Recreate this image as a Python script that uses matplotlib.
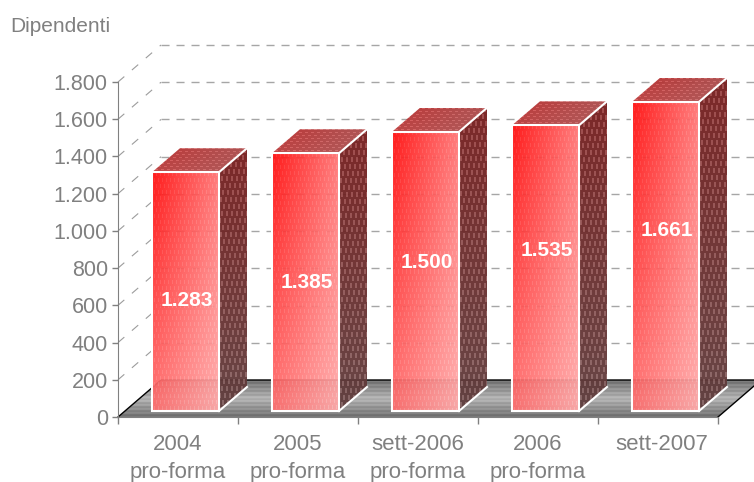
import matplotlib
matplotlib.use('Agg')
import matplotlib.pyplot as plt
from matplotlib.patches import Polygon
from matplotlib.transforms import ScaledTranslation
import numpy as np

categories = ['2004\npro-forma', '2005\npro-forma', 'sett-2006\npro-forma', '2006\npro-forma', 'sett-2007']
employees = [1283, 1385, 1500, 1535, 1661]
value_labels = ['1.283', '1.385', '1.500', '1.535', '1.661']
y_ticks = [0, 200, 400, 600, 800, 1000, 1200, 1400, 1600, 1800]
y_tick_labels = ['0', '200', '400', '600', '800', '1.000', '1.200', '1.400', '1.600', '1.800']
# where the value labels sit, they are not centred in the bars
label_heights = [624, 721, 828, 893, 1000]

W, H = 754, 482
LEFT, RIGHT, BOTTOM, TOP = 118, 718, 417, 82  # plot box in pixels
PX_X = 5 / (RIGHT - LEFT)
PX_Y = 1800 / (BOTTOM - TOP)
GREY = '#808080'

plt.rcParams['font.family'] = ['Liberation Sans', 'DejaVu Sans']

fig = plt.figure(figsize=(W / 100, H / 100), dpi=100)
ax = fig.add_axes([LEFT / W, 1 - BOTTOM / H, (RIGHT - LEFT) / W, (BOTTOM - TOP) / H])


def texture(w, h, tl, tr, bl, br, kind):
    # bilinear colour gradient with a fine woven pattern on top
    u = np.linspace(0, 1, w)[None, :, None]
    v = np.linspace(0, 1, h)[:, None, None]
    tl, tr, bl, br = [np.array(c, dtype=float)[None, None, :] for c in (tl, tr, bl, br)]
    img = (tl * (1 - u) + tr * u) * (1 - v) + (bl * (1 - u) + br * u) * v
    yy, xx = np.mgrid[0:h, 0:w]
    if kind == 'front':
        mask = ((xx + 2 * (yy // 6)) % 4 == 0) & (yy % 6 < 4)
        img = img + mask[:, :, None] * 20
    elif kind == 'side':
        mask = ((xx + 2 * (yy // 7)) % 5 < 2) & (yy % 7 < 5)
        img = img + mask[:, :, None] * 38
    elif kind == 'top':
        mask = ((xx + 3 * (yy // 3)) % 6 < 3) & (yy % 3 == 0)
        img = img + mask[:, :, None] * 28
    elif kind == 'floor':
        # dark at both edges, light in the middle
        tent = 1 - np.abs(2 * v - 1)
        mask = (yy % 4 < 2)
        img = img + tent * 65 + mask[:, :, None] * 14
    return np.clip(img, 0, 255).astype(np.uint8)


def textured_face(pts, tl, tr, bl, br, kind, alpha=1.0, zorder=3):
    pts = np.array(pts)
    x0, x1 = pts[:, 0].min(), pts[:, 0].max()
    y0, y1 = pts[:, 1].min(), pts[:, 1].max()
    w = max(int(round((x1 - x0) / PX_X)), 2)
    h = max(int(round((y1 - y0) / PX_Y)), 2)
    im = ax.imshow(texture(w, h, tl, tr, bl, br, kind), extent=[x0, x1, y0, y1], origin='upper',
                   aspect='auto', interpolation='nearest', alpha=alpha, zorder=zorder)
    im.set_clip_box(fig.bbox)
    im.set_clip_path(Polygon(pts, closed=True, transform=ax.transData))


# wall depth and bar depth
DX, DY = 43 * PX_X, 37 * PX_Y
BDX, BDY = 28 * PX_X, 24 * PX_Y
BAR_X, BAR_W = 34 * PX_X, 67 * PX_X
LIFT = 6 * PX_Y

# floor
floor = [(0, 0), (5, 0), (5 + DX, DY), (DX, DY)]
textured_face(floor, (108, 108, 108), (108, 108, 108), (108, 108, 108), (108, 108, 108), 'floor', zorder=1)
ax.plot([0, DX, 5 + DX], [0, DY, DY], color='black', lw=1, clip_on=False, zorder=1.5)
ax.plot([5, 5 + DX], [0, DY], color='black', lw=1, clip_on=False, zorder=1.5)

# dashed grid on the two walls
for t in y_ticks[1:]:
    ax.plot([DX, 5 + DX], [t + DY, t + DY], color='#a6a6a6', lw=1, dashes=(5.8, 5),
            clip_on=False, zorder=1.2)
    ax.plot([0, DX], [t, t + DY], color='#9c9c9c', lw=0.8, dashes=(7.5, 9),
            clip_on=False, zorder=1.2)

# bars
for i, v in enumerate(employees):
    x0 = i + BAR_X
    x1 = x0 + BAR_W
    y0 = LIFT
    y1 = v + LIFT
    side = [(x1, y0), (x1 + BDX, y0 + BDY), (x1 + BDX, y1 + BDY), (x1, y1)]
    textured_face(side, (118, 28, 28), (118, 28, 28), (95, 62, 62), (95, 62, 62), 'side', alpha=0.95)
    top = [(x0, y1), (x1, y1), (x1 + BDX, y1 + BDY), (x0 + BDX, y1 + BDY)]
    textured_face(top, (185, 45, 45), (170, 75, 75), (185, 60, 60), (170, 85, 85), 'top', alpha=0.95)
    front = [(x0, y0), (x1, y0), (x1, y1), (x0, y1)]
    textured_face(front, (255, 10, 10), (255, 115, 115), (255, 110, 110), (255, 170, 170), 'front', alpha=0.93)
    # white outline of the visible edges
    ax.add_patch(Polygon(front, closed=True, fill=False, edgecolor='white', lw=1.5, clip_on=False, zorder=4))
    ax.plot([x1, x1 + BDX], [y1, y1 + BDY], color='white', lw=1.5, clip_on=False, zorder=4)
    ax.plot([x1, x1 + BDX], [y0, y0 + BDY], color='white', lw=1.5, clip_on=False, zorder=4)
    ax.text(i + 0.575, label_heights[i], value_labels[i], color='white', fontsize=15, fontweight='bold',
            ha='center', va='center', zorder=5)

ax.set_xlim(0, 5)
ax.set_ylim(0, 1800)
ax.patch.set_visible(False)

for name in ('top', 'right'):
    ax.spines[name].set_visible(False)
for name in ('left', 'bottom'):
    ax.spines[name].set_color(GREY)
    ax.spines[name].set_zorder(2)

ax.set_yticks(y_ticks)
ax.set_yticklabels(y_tick_labels)
ax.tick_params(axis='y', length=4.3, width=1, color=GREY, labelcolor=GREY, labelsize=15.5, pad=3)
ax.set_xticks(range(6))
ax.set_xticklabels([])
ax.tick_params(axis='x', which='major', length=5, width=1, color=GREY)
ax.set_xticks(np.arange(5) + 0.5, minor=True)
labels = ax.set_xticklabels(categories, minor=True, color=GREY, fontsize=16, linespacing=1.45)
ax.tick_params(axis='x', which='minor', length=0, pad=12)
# last label sits a little right of its slot in the original
labels[-1].set_transform(labels[-1].get_transform() + ScaledTranslation(4 / 100, 0, fig.dpi_scale_trans))

fig.text(10 / W, 1 - 27 / H, 'Dipendenti', color=GREY, fontsize=15, va='center', ha='left')

fig.savefig('out.png', dpi=100)
